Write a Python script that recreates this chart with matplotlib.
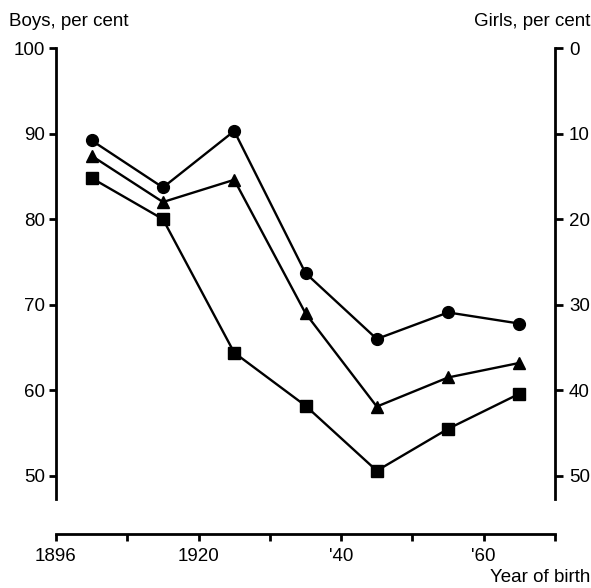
import matplotlib
matplotlib.use("Agg")
import matplotlib.pyplot as plt

plt.rcParams['font.family'] = ['Liberation Sans', 'DejaVu Sans']

# Data (boys per cent; girls per cent = 100 - boys)
cohort_pos = [0.5, 1.5, 2.5, 3.5, 4.5, 5.5, 6.5]
circles = [89.2, 83.7, 90.3, 73.7, 66.0, 69.1, 67.8]
triangles = [87.4, 82.0, 84.6, 69.0, 58.1, 61.5, 63.2]
squares = [84.8, 80.0, 64.4, 58.2, 50.6, 55.5, 59.6]

x_ticks = [0, 1, 2, 3, 4, 5, 6, 7]
x_labels = ['1896', '', '1920', '', "'40", '', "'60", '']
left_ticks = [50, 60, 70, 80, 90, 100]
right_ticks = [0, 10, 20, 30, 40, 50]

fs = 13.5
fig = plt.figure(figsize=(5.91, 5.88), dpi=100)
ax = fig.add_axes([56/591, 1-499/588, (555-56)/591, (499-48)/588])

lw = 1.7
ax.plot(cohort_pos, circles, color='black', lw=lw, marker='o', ms=8.5, zorder=3)
ax.plot(cohort_pos, triangles, color='black', lw=lw, marker='^', ms=8, zorder=3)
ax.plot(cohort_pos, squares, color='black', lw=lw, marker='s', ms=8.5, zorder=3)

ax.set_xlim(0, 7)
ax.set_ylim(47.3, 100)

ax.spines['top'].set_visible(False)
ax.spines['right'].set_visible(False)
for s in ['left', 'bottom']:
    ax.spines[s].set_linewidth(2)
ax.spines['bottom'].set_position(('outward', 25))

ax.set_yticks(left_ticks)
ax.set_yticklabels([str(v) for v in left_ticks])
ax.set_xticks(x_ticks)
ax.set_xticklabels(x_labels)
ax.tick_params(axis='both', direction='out', length=5, width=2, labelsize=fs, color='black')
ax.tick_params(axis='y', pad=3)
ax.tick_params(axis='x', pad=5)

sec = ax.secondary_yaxis('right', functions=(lambda y: 100 - y, lambda y: 100 - y))
sec.spines['right'].set_linewidth(2)
sec.set_yticks(right_ticks)
sec.set_yticklabels([str(v) for v in right_ticks])
sec.tick_params(axis='y', direction='out', length=6, width=2, labelsize=fs, pad=4)

fig.text(9/591, 1-22/588, 'Boys, per cent', ha='left', va='center', fontsize=fs)
fig.text(590/591, 1-22/588, 'Girls, per cent', ha='right', va='center', fontsize=fs)
fig.text(590/591, 1-578/588, 'Year of birth', ha='right', va='center', fontsize=fs)

fig.savefig('out.png', dpi=100)
